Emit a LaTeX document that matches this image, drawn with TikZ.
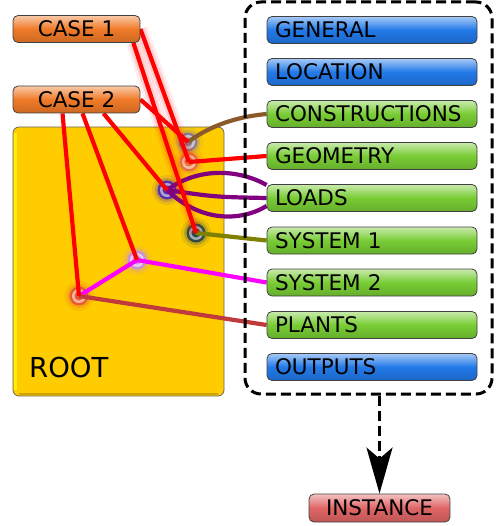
\documentclass[tikz,border=0pt]{standalone}
\usepackage{fontspec}
\setmainfont{DejaVu Sans}
\usetikzlibrary{arrows.meta}
\definecolor{caseC}{HTML}{F07A28}
\definecolor{blueC}{HTML}{2279E8}
\definecolor{greenC}{HTML}{78CC34}
\definecolor{instC}{HTML}{E06565}
\definecolor{rootC}{HTML}{FFCC00}
\definecolor{redL}{HTML}{FF0000}
\definecolor{magL}{HTML}{FF00FF}
\definecolor{brownL}{HTML}{8B5A2B}
\definecolor{oliveL}{HTML}{808000}
\definecolor{purpleL}{HTML}{800080}
\definecolor{plantL}{HTML}{C0393B}
\definecolor{jA}{HTML}{8A7D92}
\definecolor{jB}{HTML}{E8713A}
\definecolor{jC}{HTML}{5533AA}
\definecolor{jD}{HTML}{2E4A48}
\definecolor{jE}{HTML}{C890D8}
\definecolor{jF}{HTML}{E85A30}
\pgfdeclarelayer{back}
\pgfdeclarelayer{mid}
\pgfsetlayers{back,mid,main}
\newcommand\mkjunc[3]{%
  \fill[#3, opacity=0.12] (#2) circle (15);
  \fill[#3, opacity=0.25] (#2) circle (12);
  \node[circle, inner sep=0pt, minimum size=19pt, fill=#3] (#1) at (#2) {};
  \fill[white!55!#3] (#1) circle (7);
  \fill[#3] (#1) circle (4.5);
}
\begin{document}
\begin{tikzpicture}[x=1pt,y=-1pt,
  btn/.style={draw=black!75, line width=0.8pt, rounded corners=5pt,
    minimum height=27pt, inner sep=0pt, font=\fontsize{21.5}{24}\selectfont,
    top color=#1!40!white, bottom color=#1!85!black, middle color=#1},
  casebtn/.style={btn=caseC, minimum width=127pt},
  rbtn/.style={btn=#1, text width=194pt, inner xsep=8pt, align=left},
  instbtn/.style={btn=instC, minimum width=141pt, minimum height=28pt},
  rootbox/.style={fill=rootC, draw=black!60, line width=0.8pt, rounded corners=6pt,
    minimum width=211pt, minimum height=269pt, inner sep=0pt},
  grpbox/.style={draw=black, line width=3pt, dash pattern=on 10pt off 5pt,
    rounded corners=16pt, minimum width=247pt, minimum height=392pt, inner sep=0pt},
  redl/.style={redL, line width=4.2pt},
  glowl/.style={redl, preaction={draw=redL, draw opacity=0.08, line width=14pt},
    preaction={draw=redL, draw opacity=0.12, line width=9pt}},
  conn/.style={line width=4.2pt, draw=#1},
]
\useasboundingbox (0,0) rectangle (500,526);

\begin{pgfonlayer}{back}
% root box
\node[rootbox] (root) at (118.5,261.5) {};
\draw[yellow, line width=3pt] ([xshift=2.5pt,yshift=-6pt]root.north west) -- ([xshift=2.5pt,yshift=6pt]root.south west);
\draw[rootC!80!black, line width=2pt] ([xshift=6pt,yshift=2pt]root.south west) -- ([xshift=-6pt,yshift=2pt]root.south east);
\node[anchor=base west, inner sep=0pt, font=\fontsize{27.5}{30}\selectfont] (roottxt) at (29,377) {ROOT};
% junctions
\mkjunc{j1}{188,142}{jA}
\mkjunc{j2}{189,162}{jB}
\mkjunc{j3}{167,190}{jC}
\mkjunc{j4}{196,233}{jD}
\mkjunc{j5}{137,260}{jE}
\mkjunc{j6}{79,296}{jF}
\end{pgfonlayer}

% group box
\node[grpbox] (grp) at (368.5,198) {};

% right boxes
\node[rbtn=blueC] (general) at (372,30) {GENERAL};
\node[rbtn=blueC] (location) at (372,72) {LOCATION};
\node[rbtn=greenC] (constr) at (372,114) {CONSTRUCTIONS};
\node[rbtn=greenC] (geom) at (372,156) {GEOMETRY};
\node[rbtn=greenC] (loads) at (372,198) {LOADS};
\node[rbtn=greenC] (sys1) at (372,240.5) {SYSTEM 1};
\node[rbtn=greenC] (sys2) at (372,282.5) {SYSTEM 2};
\node[rbtn=greenC] (plants) at (372,325) {PLANTS};
\node[rbtn=blueC] (outputs) at (372,367) {OUTPUTS};

% case boxes
\node[casebtn] (case1) at (76.5,29) {CASE 1};
\node[casebtn] (case2) at (76.5,99.5) {CASE 2};

\begin{pgfonlayer}{mid}
% connectors to the right boxes
\draw[conn=brownL] (j1.center) .. controls (215,122) and (245,116) .. (constr.west);
\draw[conn=redL] (j2.center) -- (geom.west);
\draw[conn=purpleL] (j3.center) .. controls (200,166) and (240,170) .. ([yshift=13pt]loads.west);
\draw[conn=purpleL] (j3.center) .. controls (215,197) .. (loads.west);
\draw[conn=purpleL] (j3.center) .. controls (200,222) and (240,222) .. ([yshift=-8pt]loads.west);
\draw[conn=oliveL] (j4.center) -- (sys1.west);
\draw[conn=magL] (j5.center) -- (sys2.west);
\draw[conn=magL] (j6.center) -- (j5.center);
\draw[conn=plantL] (j6.center) -- (plants.west);
% red links from the cases
\draw[glowl] (case1.east) -- (j2.center);
\draw[glowl] ([xshift=-7pt]case1.south east) -- (j4.center);
\draw[redl] (case2.east) -- (j1.center);
\draw[redl] ([xshift=-14pt]case2.south) -- (j6.center);
\draw[redl] ([xshift=6pt]case2.south) -- (j5.center);
\draw[redl] ([xshift=27pt]case2.south) -- (j3.center);
\end{pgfonlayer}

% instance
\node[instbtn] (inst) at (379.5,508) {INSTANCE};
\draw[line width=3pt, dash pattern=on 10pt off 5pt,
  -{Stealth[length=46pt,width=26pt,inset=11pt]}] (grp.south -| inst.north) -- (inst.north);
\end{tikzpicture}
\end{document}
